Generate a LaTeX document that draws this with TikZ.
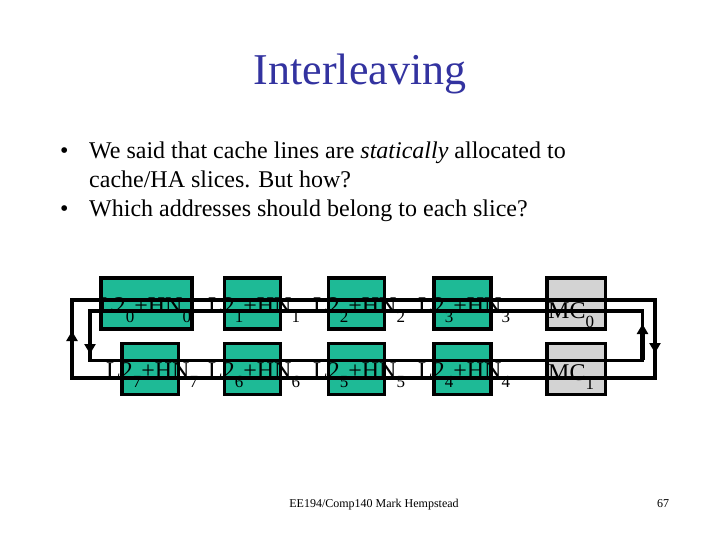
\documentclass[tikz,border=0pt]{standalone}
\usepackage{fontspec}
\setmainfont{Liberation Serif}
\usetikzlibrary{arrows.meta}
\definecolor{titleblue}{RGB}{51,51,160}
\definecolor{slicegreen}{RGB}{30,186,150}
\definecolor{mcgray}{RGB}{211,211,211}
\newcommand\lowsub[1]{\raisebox{-9pt}{\fontsize{17}{17}\selectfont #1}}
\tikzset{
  gbox/.style={draw=black, line width=3.5pt, fill=slicegreen, minimum height=51pt, inner sep=0pt},
  mcbox/.style={draw=black, line width=3.5pt, fill=mcgray, minimum height=51pt, minimum width=58.5pt, inner sep=0pt},
  lbl/.style={anchor=base west, inner sep=0pt, font=\fontsize{24}{28}\selectfont},
  body/.style={anchor=base west, inner sep=0pt, font=\fontsize{24}{29}\selectfont},
  loopline/.style={line width=3.5pt, line join=miter},
  arr/.style={line width=4.5pt, -{Triangle[width=11pt,length=10pt]}},
}
\begin{document}
\begin{tikzpicture}[x=1pt,y=-1pt]
\useasboundingbox (0,0) rectangle (720,540);
% title
\node[anchor=base, inner sep=0pt, text=titleblue, font=\fontsize{44}{50}\selectfont] (title) at (360,85) {Interleaving};
% bullets
\node[body] (bul1) at (60,159) {•};
\node[body] (t1) at (89,159) {We said that cache lines are \textit{statically} allocated to};
\node[body] (t2) at (89,188) {cache/HA slices. But how?};
\node[body] (bul2) at (60,217) {•};
\node[body] (t3) at (89,217) {Which addresses should belong to each slice?};
% boxes top row
\node[gbox, minimum width=91pt] (b0) at (146.5,303.5) {};
\node[gbox, minimum width=56pt] (b1) at (252.5,303.5) {};
\node[gbox, minimum width=56pt] (b2) at (356.7,303.5) {};
\node[gbox, minimum width=57pt] (b3) at (462.4,303.5) {};
\node[mcbox] (mc0) at (576.2,303.5) {};
% boxes bottom row
\node[gbox, minimum width=56.7pt] (b7) at (150.3,369.1) {};
\node[gbox, minimum width=56pt] (b6) at (252.5,369.1) {};
\node[gbox, minimum width=56pt] (b5) at (356.7,369.1) {};
\node[gbox, minimum width=57pt] (b4) at (462.4,369.1) {};
\node[mcbox] (mc1) at (576.2,369.1) {};
% loops
\coordinate (oTL) at (72,300);
\coordinate (oTR) at (655,300);
\coordinate (oBR) at (655,378);
\coordinate (oBL) at (72,378);
\coordinate (iTL) at (90,311);
\coordinate (iTR) at (642.5,311);
\coordinate (iBR) at (642.5,360.5);
\coordinate (iBL) at (90,360.5);
\draw[loopline] (oTL) -- (oTR) -- (oBR) -- (oBL) -- cycle;
\draw[loopline] (iTL) -- (iTR) -- (iBR) -- (iBL) -- cycle;
% arrows
\coordinate (a1s) at (72,360);
\coordinate (a1e) at (72,331);
\coordinate (a2s) at (90,323);
\coordinate (a2e) at (90,354);
\coordinate (a3s) at (642.5,360);
\coordinate (a3e) at (642.5,324);
\coordinate (a4s) at (655,323);
\coordinate (a4e) at (655,353);
\draw[arr] (a1s) -- (a1e);
\draw[arr] (a2s) -- (a2e);
\draw[arr] (a3s) -- (a3e);
\draw[arr] (a4s) -- (a4e);
% labels top
\node[lbl] (l0) at (99,313) {L2\lowsub{0}+HN\lowsub{0}};
\node[lbl] (l1) at (208,313) {L2\lowsub{1}+HN\lowsub{1}};
\node[lbl] (l2) at (313,313) {L2\lowsub{2}+HN\lowsub{2}};
\node[lbl] (l3) at (418,313) {L2\lowsub{3}+HN\lowsub{3}};
\node[lbl] (m0) at (548,318) {MC\lowsub{0}};
% labels bottom
\node[lbl] (l7) at (106,378) {L2\lowsub{7}+HN\lowsub{7}};
\node[lbl] (l6) at (208,378) {L2\lowsub{6}+HN\lowsub{6}};
\node[lbl] (l5) at (313,378) {L2\lowsub{5}+HN\lowsub{5}};
\node[lbl] (l4) at (418,378) {L2\lowsub{4}+HN\lowsub{4}};
\node[lbl] (m1) at (548,380) {MC\lowsub{1}};
% footer
\node[anchor=base, inner sep=0pt, font=\fontsize{12}{14}\selectfont] (foot) at (374,507) {EE194/Comp140 Mark Hempstead};
\node[anchor=base, inner sep=0pt, font=\fontsize{12}{14}\selectfont] (page) at (663,507) {67};
\end{tikzpicture}
\end{document}
